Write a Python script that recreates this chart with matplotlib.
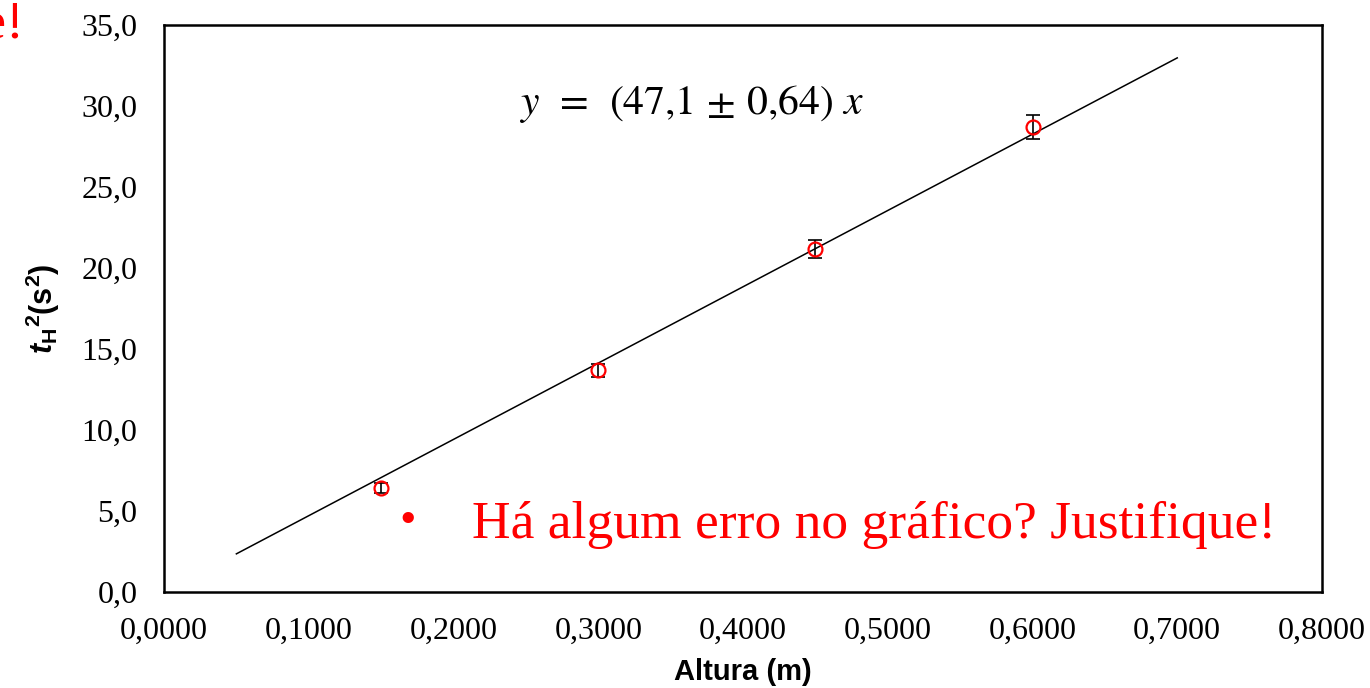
import matplotlib
matplotlib.use("Agg")
import matplotlib.pyplot as plt
import numpy as np

altura = [0.15, 0.30, 0.45, 0.60]
t2 = [6.42, 13.7, 21.15, 28.7]
t2_err = [0.3, 0.4, 0.55, 0.75]
slope = 47.1
fit_x = [0.05, 0.70]
xticks = [0.0, 0.1, 0.2, 0.3, 0.4, 0.5, 0.6, 0.7, 0.8]
yticks = [0, 5, 10, 15, 20, 25, 30, 35]

plt.rcParams["mathtext.fontset"] = "custom"
plt.rcParams["mathtext.rm"] = "Liberation Sans"
plt.rcParams["mathtext.it"] = "Liberation Sans:italic"
plt.rcParams["mathtext.bf"] = "Liberation Sans:bold"
plt.rcParams["mathtext.bfit"] = "Liberation Sans:bold:italic"

fig = plt.figure(figsize=(13.7, 6.88), dpi=100)
ax = fig.add_axes([164/1370, 1-592/688, (1322-164)/1370, (592-25)/688])

fx = np.array(fit_x)
ax.plot(fx, slope*fx, color="black", lw=1.1, zorder=2)
ax.errorbar(altura, t2, yerr=t2_err, fmt="none", ecolor="black", elinewidth=1.2,
            capsize=5, capthick=1.2, zorder=3)
ax.plot(altura, t2, "o", mfc="none", mec="red", ms=10, mew=1.6, zorder=4)

ax.set_xlim(0, 0.8)
ax.set_ylim(0, 35)
ax.set_xticks(xticks)
ax.set_yticks(yticks)
ax.set_xticklabels([f"{v:.4f}".replace(".", ",") for v in xticks],
                   family="Liberation Serif", fontsize=23)
ax.set_yticklabels([f"{v:.1f}".replace(".", ",") for v in yticks],
                   family="Liberation Serif", fontsize=23)
ax.tick_params(axis="x", length=0, pad=18)
ax.tick_params(axis="y", length=0, pad=19)
for s in ax.spines.values():
    s.set_linewidth(1.8)
    s.set_color("black")

ax.set_xlabel("Altura (m)", family="Liberation Sans", fontweight="bold", fontsize=21, labelpad=9)
ax.set_ylabel(r"$\boldsymbol{t}_{\mathbf{H}}{}^{\mathbf{2}}\mathbf{(s}^{\mathbf{2}}\mathbf{)}$",
              fontsize=22, labelpad=14)

ax.text(0.364, 30.1, r"$y\ \,=\ \,(47{,}1\,\pm\,0{,}64)\ x$", fontsize=30, ha="center", va="center",
        math_fontfamily="stix")

fig.text(408/1370, 1-522/688, "•", color="red", fontsize=34, family="Liberation Serif",
         ha="center", va="center")
fig.text(472/1370, 1-525/688, "Há algum erro no gráfico? Justifique!", color="red", fontsize=38.5,
         family="Liberation Serif", ha="left", va="center")
fig.text(25/1370, 1-25/688, "Justifique!", color="red", fontsize=38.5,
         family="Liberation Serif", ha="right", va="center")

fig.savefig("out.png", dpi=100)
